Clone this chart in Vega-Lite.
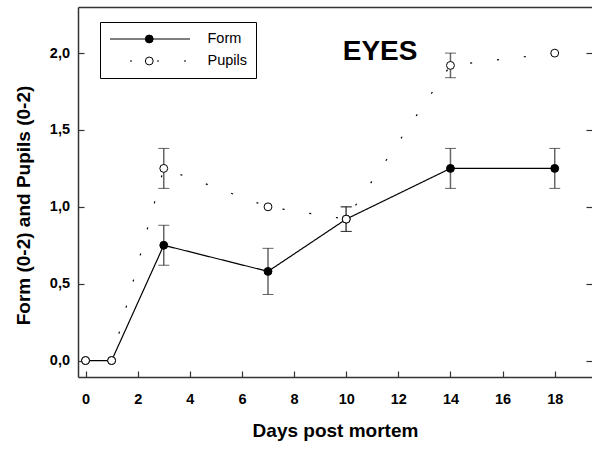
{
  "$schema": "https://vega.github.io/schema/vega-lite/v6.json",
  "width": 514,
  "height": 370,
  "autosize": "none",
  "padding": {"left": 78, "top": 7, "right": 0, "bottom": 73},
  "background": "white",
  "config": {
    "view": {"stroke": null},
    "font": "Liberation Sans",
    "axis": {
      "domainColor": "#333", "domainWidth": 1.5, "tickColor": "#333", "tickWidth": 1.2, "tickSize": -6,
      "grid": false, "labelFont": "Liberation Sans", "labelFontWeight": "bold", "labelFontSize": 14.5,
      "labelColor": "black", "titleFont": "Liberation Sans", "titleFontWeight": "bold", "titleFontSize": 19,
      "titleColor": "black"
    }
  },
  "datasets": {
    "main": [
      {"series": "Form", "day": 0, "value": 0, "lo": null, "hi": null},
      {"series": "Form", "day": 1, "value": 0, "lo": null, "hi": null},
      {"series": "Form", "day": 3, "value": 0.75, "lo": 0.62, "hi": 0.88},
      {"series": "Form", "day": 7, "value": 0.58, "lo": 0.43, "hi": 0.73},
      {"series": "Form", "day": 10, "value": 0.92, "lo": 0.84, "hi": 1.0},
      {"series": "Form", "day": 14, "value": 1.25, "lo": 1.12, "hi": 1.38},
      {"series": "Form", "day": 18, "value": 1.25, "lo": 1.12, "hi": 1.38},
      {"series": "Pupils", "day": 0, "value": 0, "lo": null, "hi": null},
      {"series": "Pupils", "day": 1, "value": 0, "lo": null, "hi": null},
      {"series": "Pupils", "day": 3, "value": 1.25, "lo": 1.12, "hi": 1.38},
      {"series": "Pupils", "day": 7, "value": 1.0, "lo": null, "hi": null},
      {"series": "Pupils", "day": 10, "value": 0.92, "lo": 0.84, "hi": 1.0},
      {"series": "Pupils", "day": 14, "value": 1.92, "lo": 1.84, "hi": 2.0},
      {"series": "Pupils", "day": 18, "value": 2.0, "lo": null, "hi": null}
    ],
    "note": [{"label": "EYES", "day": 11.3, "value": 1.955}]
  },
  "data": {"name": "main"},
  "layer": [
    {
      "transform": [{"filter": "isValid(datum.lo)"}],
      "mark": {"type": "rule", "color": "#666", "strokeWidth": 1.5},
      "encoding": {
        "x": {"field": "day", "type": "quantitative",
          "scale": {"domain": [-0.29, 19.43], "nice": false, "zero": false},
          "axis": {"values": [0, 2, 4, 6, 8, 10, 12, 14, 16, 18], "labelPadding": 21,
            "title": "Days post mortem", "titleX": 257, "titleY": 59.5, "titleBaseline": "alphabetic"}},
        "y": {"field": "lo", "type": "quantitative",
          "scale": {"domain": [-0.107, 2.3], "nice": false, "zero": false},
          "axis": {"values": [0, 0.5, 1, 1.5, 2], "labelPadding": 14.5,
            "labelExpr": "replace(format(datum.value, '.1f'), '.', ',')",
            "title": "Form (0-2) and Pupils (0-2)", "titleX": -48.5, "titleY": 198,
            "titleAngle": -90, "titleBaseline": "alphabetic"}},
        "y2": {"field": "hi"}
      }
    },
    {
      "transform": [{"filter": "isValid(datum.lo)"}],
      "mark": {"type": "tick", "orient": "horizontal", "size": 11, "thickness": 1, "color": "#222"},
      "encoding": {
        "x": {"field": "day", "type": "quantitative", "axis": null},
        "y": {"field": "lo", "type": "quantitative", "axis": null}
      }
    },
    {
      "transform": [{"filter": "isValid(datum.hi)"}],
      "mark": {"type": "tick", "orient": "horizontal", "size": 11, "thickness": 1, "color": "#222"},
      "encoding": {
        "x": {"field": "day", "type": "quantitative", "axis": null},
        "y": {"field": "hi", "type": "quantitative", "axis": null}
      }
    },
    {
      "mark": {"type": "line", "color": "black", "strokeWidth": 1.2},
      "encoding": {
        "x": {"field": "day", "type": "quantitative",
          "axis": {"orient": "top", "labels": false, "ticks": false, "title": null, "domain": true}},
        "y": {"field": "value", "type": "quantitative",
          "axis": {"orient": "right", "labels": false, "title": null, "domain": false,
            "values": [0, 0.5, 1, 1.5, 2], "tickSize": -6}},
        "strokeDash": {"field": "series", "type": "nominal",
          "scale": {"domain": ["Form", "Pupils"], "range": [[1, 0], [2, 25]]},
          "legend": {
            "title": null, "orient": "top-left", "offset": 24, "padding": 0,
            "symbolType": "stroke", "symbolSize": 6400, "symbolOffset": 7, "symbolStrokeWidth": 1.2,
            "symbolStrokeColor": "black", "symbolDashOffset": 7, "clipHeight": 16, "rowPadding": 6,
            "labelExpr": "''", "labelOffset": 0
          }}
      }
    },
    {
      "mark": {"type": "point", "filled": true, "size": 62, "stroke": "black", "strokeWidth": 1, "opacity": 1},
      "encoding": {
        "x": {"field": "day", "type": "quantitative", "axis": null},
        "y": {"field": "value", "type": "quantitative", "axis": null},
        "fill": {"field": "series", "type": "nominal",
          "scale": {"domain": ["Form", "Pupils"], "range": ["black", "white"]},
          "legend": {
            "title": null, "orient": "none", "legendX": 22, "legendY": 15,
            "strokeColor": "black", "padding": 9, "symbolSize": 62, "clipHeight": 16,
            "rowPadding": 6, "symbolOffset": 33, "labelOffset": 51, "labelFontSize": 14.5,
            "labelFont": "Liberation Sans", "labelColor": "black", "symbolStrokeColor": "black",
            "symbolStrokeWidth": 1, "symbolOpacity": 1
          }}
      }
    },
    {
      "data": {"name": "note"},
      "mark": {"type": "text", "fontSize": 28, "fontWeight": "bold", "font": "Liberation Sans",
        "align": "center", "baseline": "alphabetic", "color": "black"},
      "encoding": {
        "x": {"field": "day", "type": "quantitative", "axis": null},
        "y": {"field": "value", "type": "quantitative", "axis": null},
        "text": {"field": "label"}
      }
    }
  ],
  "resolve": {"axis": {"x": "independent", "y": "independent"}}
}
